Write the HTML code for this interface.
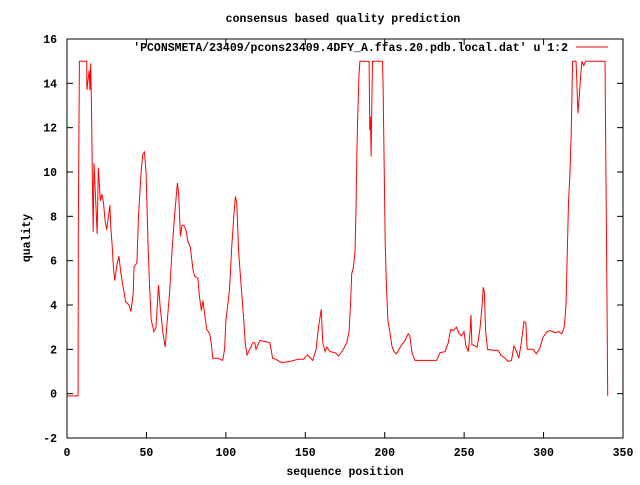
<!DOCTYPE html>
<html><head><meta charset="utf-8"><style>
body{margin:0;background:#fff}
svg text{font-family:"Liberation Mono","DejaVu Sans Mono",monospace;font-weight:bold;font-size:11.5px;fill:#000}
</style></head><body>
<svg id="chart" width="640" height="480" xmlns="http://www.w3.org/2000/svg">
<rect width="640" height="480" fill="#fff"/>
<g id="axes"></g>
<g id="series"></g>
<text x="343" y="22" text-anchor="middle">consensus based quality prediction</text>
<text x="345" y="475" text-anchor="middle">sequence position</text>
<text x="0" y="0" text-anchor="middle" transform="translate(30,238) rotate(-90)">quality</text>
<text x="568" y="51" text-anchor="end">'PCONSMETA/23409/pcons23409.4DFY_A.ffas.20.pdb.local.dat' u 1:2</text>
<line x1="576" y1="47" x2="608" y2="47" stroke="#f00" stroke-width="1"/>
</svg>
<script>
const xTicks=[0,50,100,150,200,250,300,350];
const yTicks=[-2,0,2,4,6,8,10,12,14,16];
const positions=[0,7,7.1,7.8,12.4,12.5,14,14.5,14.9,15.5,16,16.5,17,18,19,19.7,21,22,23,24,25,27,27.6,28.5,29.2,30,31.4,32.7,34,36.9,39,40.2,41.7,42.2,44,45,46.6,47.7,48.8,49.8,51,52,53,54.7,56,57.6,58.7,60.4,61.8,63,64.5,66,67.7,69.5,70.3,71.4,72.4,73.5,74.8,76,77.6,79.3,80.3,82.4,83.4,84.6,85.6,86.7,88,89.8,90.8,91.8,95,98,99.2,100,102.3,103.7,105,106,106.9,108,109.6,111,112.3,113.4,115,116.9,118.2,119,121.4,125,127.7,129.4,131.5,135,140.3,145.5,148.8,151.4,154.7,156.8,158.3,160,161,162.5,163.5,165.6,168.8,170.9,174,176.1,177.6,178.6,179.2,180.3,181.3,181.9,182.5,183.1,183.8,184.4,190.2,190.6,191,191.4,191.8,192.3,198.6,199,199.4,200.3,201.1,202,203.2,204.5,205.8,207.4,210.6,212.7,214.8,215.8,217.2,219,223.2,227.4,232.7,234.8,238,240,241.5,243.2,245.2,246.9,248.4,249.9,251.1,252.6,253.6,254.3,254.9,255.7,258.2,259.9,261.4,262,262.7,263.5,264.7,268.3,271.4,273.1,275.6,277.7,279.8,281.3,283,284.4,286.1,287.6,288.8,289.7,293.4,295.5,297.6,299.7,302.3,304,305.6,307.7,309.4,311.5,313,313.6,314.2,314.9,315.7,316.6,317.4,318.3,320.4,320.8,321.6,322.5,323.3,324.1,325.3,326.6,338.7,339.1,340,340.4];
const quality=[-0.1,-0.1,7.4,15,15,13.7,14.6,13.7,14.9,12.6,9.5,7.3,10.4,8.8,7.2,10.2,8.7,9,8.6,7.8,7.4,8.5,7.5,6.6,5.7,5.1,5.8,6.2,5.4,4.15,4.0,3.7,4.5,5.7,5.9,8.0,9.95,10.8,10.9,9.95,6.8,4.8,3.33,2.8,3.0,4.9,3.9,2.75,2.1,3.2,4.5,6.3,8.0,9.5,9.0,7.1,7.6,7.6,7.4,6.9,6.6,5.6,5.3,5.2,4.35,3.75,4.2,3.56,2.9,2.7,2.3,1.6,1.6,1.5,2.0,3.3,4.7,6.6,8.0,8.9,8.6,6.4,4.9,3.6,2.2,1.75,2.0,2.3,2.3,2.0,2.4,2.35,2.3,1.6,1.55,1.4,1.45,1.55,1.55,1.75,1.5,2.0,3.0,3.8,2.3,1.9,2.1,1.9,1.85,1.7,2.0,2.3,2.8,4.2,5.4,5.7,6.4,8.3,10.9,12.8,14.4,15,15,11.9,12.5,10.7,12.7,15,15,13.9,11.5,6.8,4.8,3.3,2.8,2.15,1.9,1.8,2.2,2.4,2.7,2.6,1.85,1.5,1.5,1.5,1.5,1.85,1.9,2.3,2.9,2.85,3.0,2.7,2.6,2.8,2.15,1.9,2.7,3.55,2.2,2.2,2.1,2.9,4.1,4.8,4.6,2.85,2.0,1.95,1.95,1.75,1.6,1.45,1.5,2.15,1.9,1.6,2.35,3.25,3.2,2.0,2.0,1.8,2.05,2.55,2.8,2.85,2.8,2.75,2.8,2.7,3.0,3.5,4.1,6.2,8.6,9.9,11.75,15,15,14.4,12.65,13.4,14.3,15,14.8,15,15,11.3,3.6,-0.1];
const L=67,R=623,T=39,B=438,xMin=0,xMax=350,yMin=-2,yMax=16;
const sx=v=>L+(v-xMin)/(xMax-xMin)*(R-L);
const sy=v=>B-(v-yMin)/(yMax-yMin)*(B-T);
const NS="http://www.w3.org/2000/svg";
const axes=document.getElementById('axes');
function mk(tag,attrs,parent){const e=document.createElementNS(NS,tag);for(const k in attrs)e.setAttribute(k,attrs[k]);parent.appendChild(e);return e;}
const frame=mk('rect',{x:L,y:T,width:R-L,height:B-T,fill:'none',stroke:'#000','stroke-width':1},axes);


xTicks.forEach(t=>{const x=sx(t);
 const a=mk('line',{x1:x,y1:B,x2:x,y2:B-6,stroke:'#000'},axes);
 
 
 const b=mk('line',{x1:x,y1:T,x2:x,y2:T+6,stroke:'#000'},axes);
 
 
 const tx=mk('text',{x:x,y:456,'text-anchor':'middle'},axes);tx.textContent=t;
 
 
});
yTicks.forEach(t=>{const y=sy(t);
 const a=mk('line',{x1:L,y1:y,x2:L+6,y2:y,stroke:'#000'},axes);
 
 
 const b=mk('line',{x1:R,y1:y,x2:R-6,y2:y,stroke:'#000'},axes);
 
 
 const tx=mk('text',{x:57,y:y+4,'text-anchor':'end'},axes);tx.textContent=t;
 
 
});
const pts=positions.map((p,i)=>sx(p).toFixed(1)+','+sy(quality[i]).toFixed(1)).join(' ');
const line=mk('polyline',{points:pts,fill:'none',stroke:'#f00','stroke-width':1},document.getElementById('series'));


</script>
</body></html>
